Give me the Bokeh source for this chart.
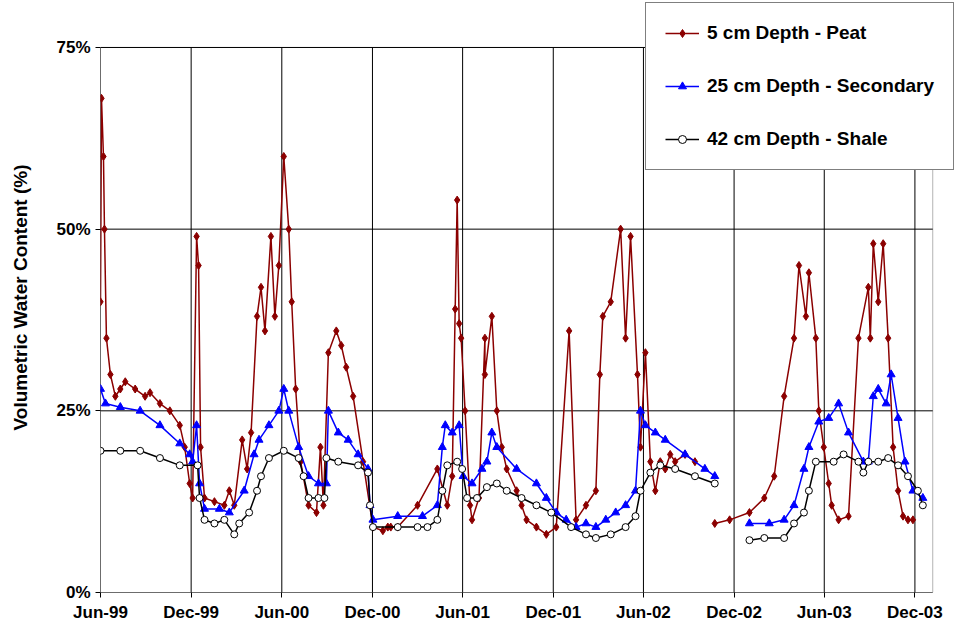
import numpy as np
from datetime import datetime, timedelta
from bokeh.plotting import figure
from bokeh.models import FixedTicker, CustomJSTickFormatter, Range1d, Legend, LegendItem, BoxAnnotation
from bokeh.embed import file_html
from bokeh.resources import INLINE

start = datetime(1999, 6, 1)
# day offsets from 1999-06-01 and volumetric water content (%)
peat_days = [0,2,6,8,12,20,30,40,50,70,90,100,120,140,160,170,180,186,194,198,202,210,230,250,260,270,286,296,304,316,324,332,344,352,360,370,380,386,394,404,420,436,444,450,460,476,486,496,510,530,550,570,580,586,600,640,680,700,710,716,720,724,728,736,746,750,764,776,776,790,800,810,820,840,850,860,880,900,920,946,960,980,1000,1008,1014,1030,1050,1060,1070,1084,1090,1100,1110,1120,1130,1140,1150,1160,1180,1200,1230,1240,
             1270,1310,1340,1360,1380,1400,1410,1424,1430,1444,1450,1460,1470,1476,1490,1510,1530,1550,1554,1560,1570,1580,1590,1600,1610,1620,1630,1640,1660]
peat_vals = [40,68,60,50,35,30,27,28,29,28,27,27.5,26,25,23,20,15,13,49,45,20,13,12.5,12,14,12,21,17,22,38,42,36,49,38,45,60,50,40,28,18,12,11,20,12,33,36,34,31,27,18,9,8.5,9,9,9,12,17,12,16,39,54,37,35,25,12,10,13,35,30,38,25,20,17,14,12,10,9,8,9,36,10,12,14,30,38,40,50,35,49,30,20,33,18,14,18,17,19,18,19,18,
             np.nan,9.5,10,11,13,16,27,35,45,38,44,35,25,20,15,12,10,10.5,35,42,35,48,40,48,35,20,14,10.5,10,10]
sec_days = [0,10,40,80,120,160,180,186,194,200,210,240,260,290,310,320,340,360,370,380,400,420,440,456,460,480,500,520,540,544,550,600,650,680,690,696,710,724,732,750,770,780,790,800,840,880,900,920,940,960,980,1000,1020,1040,1060,1080,1090,1100,1120,1140,1180,1220,1240,
            1270,1310,1350,1380,1400,1420,1430,1450,1470,1490,1510,1540,1550,1560,1570,1586,1596,1610,1624,1640,1660]
sec_vals = [28,26,25.5,25,23,20.5,19,18,23,15,11.5,11.5,11,14,19,21,23,25,28,25,20,16,15,15,25,22,21,19,17,12,10,10.5,10.5,12,20,23,22,23,16,15,17,18,22,20,17,15,13,11,10,9,9.5,9,10,11,12,14,25,23,22,21,19,17,16,
            np.nan,9.5,9.5,10,12,17,20,23.5,24,26,22,18,18,27,28,26,30,24,18,14,13]
sha_days = [0,40,80,120,160,196,200,210,230,250,270,280,300,316,324,340,370,400,410,420,440,452,456,480,520,540,544,550,600,640,660,680,690,700,720,730,740,760,780,800,820,850,880,910,950,980,1000,1030,1060,1080,1090,1110,1130,1160,1200,1240,
            1270,1310,1340,1380,1400,1420,1430,1444,1480,1500,1530,1540,1550,1570,1590,1610,1630,1650,1660]
sha_vals = [19.5,19.5,19.5,18.5,17.5,17.5,13,10,9.5,10,8,9.5,11,14,16,18.5,19.5,18.5,16,13,13,13,18.5,18,17.5,16.5,12,9,9,9,9,10,14,17.5,18,17,13,13,14.5,15,14,13,12,11,9,8,7.5,8,9,10.5,14,16.5,17.5,17,16,15,
            np.nan,7.2,7.5,7.5,9.5,11,14,18,18,19,18,16.5,18,18,18.5,17.5,16,14,12]

def to_dt(days):
    return [start + timedelta(days=d) for d in days]

tick_dates = [datetime(1999,6,1),datetime(1999,12,1),datetime(2000,6,1),datetime(2000,12,1),datetime(2001,6,1),
              datetime(2001,12,1),datetime(2002,6,1),datetime(2002,12,1),datetime(2003,6,1),datetime(2003,12,1)]
tick_labels = ["Jun-99","Dec-99","Jun-00","Dec-00","Jun-01","Dec-01","Jun-02","Dec-02","Jun-03","Dec-03"]
y_ticks = [0, 25, 50, 75]
tick_ms = [t.timestamp()*1000 for t in tick_dates]
x_end = datetime(2004,1,6)

p = figure(width=960, height=636, output_backend="svg", toolbar_location=None, x_axis_type="datetime",
           min_border_left=100, min_border_top=2, min_border_bottom=44, min_border_right=2)
p.x_range = Range1d(tick_ms[0], (x_end + timedelta(days=52)).timestamp()*1000)
p.y_range = Range1d(0, 81.19)
p.outline_line_color = None
p.xgrid.grid_line_color = None
p.ygrid.grid_line_color = None

# grid lines and plot box limited to the 0–75% area
p.segment(x0=tick_dates, y0=[0]*len(tick_dates), x1=tick_dates, y1=[75]*len(tick_dates), color="black", line_width=1)
p.segment(x0=[start]*len(y_ticks), y0=y_ticks, x1=[x_end]*len(y_ticks), y1=y_ticks, color="black", line_width=1)
p.add_layout(BoxAnnotation(left=start, right=x_end, bottom=0, top=75, fill_alpha=0,
                           line_color="black", line_width=1, level="underlay"))

r1l = p.line(to_dt(peat_days), peat_vals, color="#8B0000", line_width=1.5)
r1m = p.scatter(to_dt(peat_days), peat_vals, marker="diamond", size=8, color="#8B0000")
r2l = p.line(to_dt(sec_days), sec_vals, color="#0000FF", line_width=1.5)
r2m = p.scatter(to_dt(sec_days), sec_vals, marker="triangle", size=8, color="#0000FF")
r3l = p.line(to_dt(sha_days), sha_vals, color="black", line_width=1.5)
r3m = p.scatter(to_dt(sha_days), sha_vals, marker="circle", size=7, line_color="black", fill_color="white")

p.xaxis.ticker = FixedTicker(ticks=tick_ms)
p.xaxis.formatter = CustomJSTickFormatter(args=dict(t=tick_ms, l=tick_labels),
    code="const i = t.indexOf(tick); return i >= 0 ? l[i] : '';")
p.yaxis.ticker = FixedTicker(ticks=y_ticks)
p.yaxis.formatter = CustomJSTickFormatter(code="return tick + '%';")
for ax in (p.xaxis[0], p.yaxis[0]):
    ax.major_label_text_font = "Liberation Sans"
    ax.major_label_text_font_style = "bold"
    ax.major_label_text_font_size = "17px"
    ax.major_label_text_color = "black"
    ax.axis_line_color = None
    ax.major_tick_line_color = "black"
    ax.minor_tick_line_color = None
    ax.major_tick_in = 0
    ax.major_tick_out = 5
p.yaxis.axis_label = "Volumetric Water Content (%)"
p.yaxis.axis_label_text_font = "Liberation Sans"
p.yaxis.axis_label_text_font_style = "bold"
p.yaxis.axis_label_text_font_size = "19px"
p.yaxis.axis_label_text_color = "black"
p.yaxis.axis_label_standoff = 22

legend = Legend(items=[LegendItem(label="5 cm Depth - Peat", renderers=[r1l, r1m]),
                       LegendItem(label="25 cm Depth - Secondary", renderers=[r2l, r2m]),
                       LegendItem(label="42 cm Depth - Shale", renderers=[r3l, r3m])],
                location=(545, 422), border_line_color="black", border_line_width=1,
                label_text_font="Liberation Sans", label_text_font_style="bold", label_text_font_size="19px",
                label_text_color="black",
                spacing=31, padding=19, glyph_width=34, label_standoff=8, background_fill_alpha=1)
p.add_layout(legend, "center")

open("out.html", "w").write(file_html(p, INLINE))
